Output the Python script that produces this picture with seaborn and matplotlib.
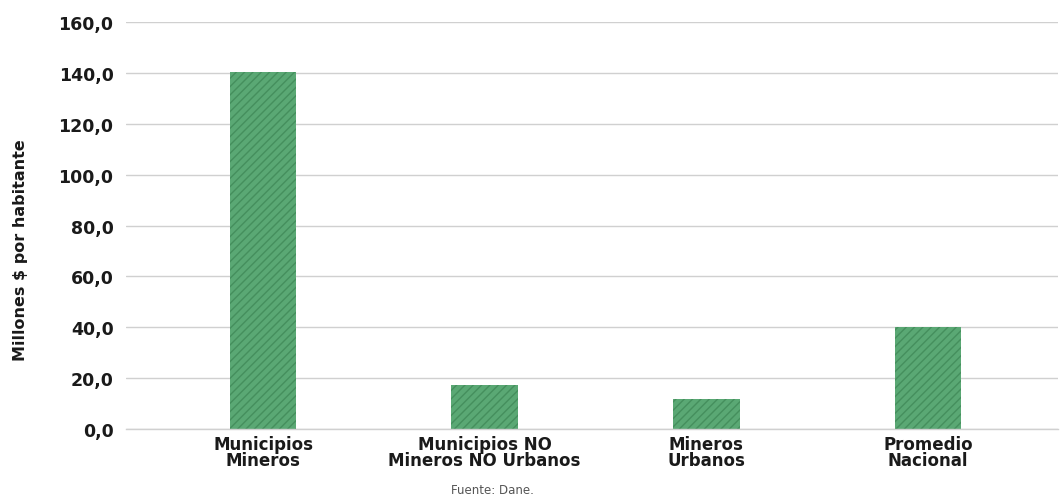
import pandas as pd
import matplotlib.pyplot as plt
import seaborn as sns

categorias = ["Municipios\nMineros", "Municipios NO\nMineros NO Urbanos",
              "Mineros\nUrbanos", "Promedio\nNacional"]
valores = [140.2, 17.3, 11.8, 40.0]
y_ticks = [0, 20, 40, 60, 80, 100, 120, 140, 160]

sns.set_style("white")
plt.rcParams['font.family'] = ['DejaVu Sans']
plt.rcParams['hatch.linewidth'] = 1.0

df = pd.DataFrame({"categoria": categorias, "valor": valores})

fig = plt.figure(figsize=(10.6, 5.02), dpi=100)
ax = fig.add_axes([0.1189, 0.1434, 0.8791, 0.8108])

sns.barplot(data=df, x="categoria", y="valor", color="#5aa874",
            width=0.3, saturation=1, ax=ax)
for bar in ax.patches:
    bar.set_hatch("////")
    bar.set_edgecolor("#458f5d")
    bar.set_linewidth(0)

ax.set_xlim(-0.618, 3.586)
ax.set_ylim(0, 160)
ax.set_yticks(y_ticks)
ax.set_yticklabels([f"{v:.1f}".replace(".", ",") for v in y_ticks],
                   fontsize=12.5, fontweight="bold", color="#1a1a1a")
ax.tick_params(axis="y", length=0, pad=9)
ax.tick_params(axis="x", length=0, pad=4)
for lbl in ax.get_xticklabels():
    lbl.set_fontsize(12)
    lbl.set_fontweight("bold")
    lbl.set_color("#1a1a1a")
    lbl.set_linespacing(0.9)

ax.yaxis.grid(True, color="#d0d0d0", linewidth=1)
ax.set_axisbelow(True)
for s in ["top", "right", "left"]:
    ax.spines[s].set_visible(False)
ax.spines["bottom"].set_color("#d0d0d0")
ax.spines["bottom"].set_linewidth(1)

ax.set_xlabel("")
ax.set_ylabel("Millones $ por habitante", fontsize=11.5, fontweight="bold",
              color="#1a1a1a", labelpad=0)
ax.yaxis.set_label_coords(-0.105, 0.442)

fig.text(0.465, 0.022, "Fuente: Dane.", fontsize=8.5, color="#555555",
         ha="center", va="center")

plt.savefig("out.png", dpi=100)
